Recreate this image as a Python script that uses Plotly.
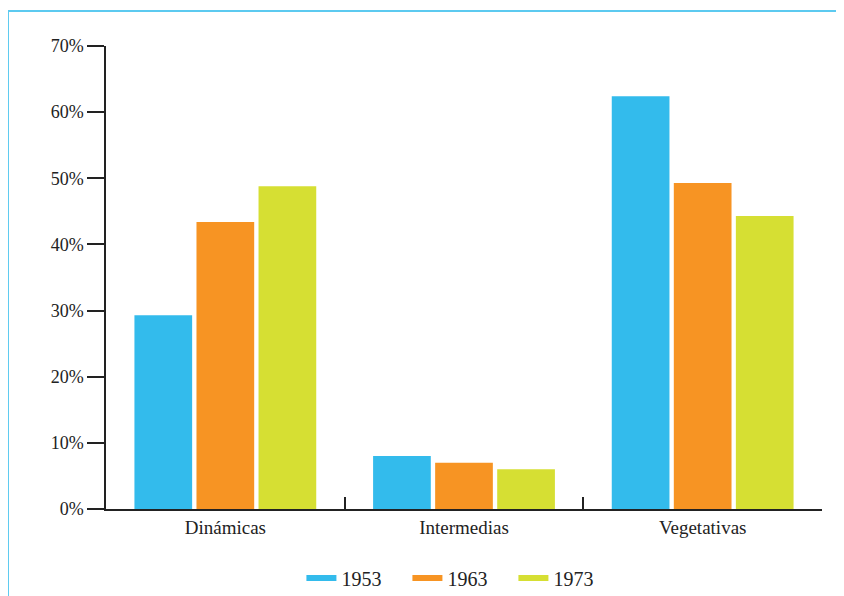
import plotly.graph_objects as go

categories = ["Dinámicas", "Intermedias", "Vegetativas"]
years = ["1953", "1963", "1973"]
values_1953 = [29.3, 8.0, 62.4]
values_1963 = [43.4, 7.0, 49.3]
values_1973 = [48.8, 6.0, 44.3]
colors = ["#33bbec", "#f79423", "#d6df33"]
y_ticks = [0, 10, 20, 30, 40, 50, 60, 70]
y_tick_labels = [f"{v}%" for v in y_ticks]

fig = go.Figure()
for yr, vals, col in zip(years, [values_1953, values_1963, values_1973], colors):
    fig.add_trace(go.Bar(x=categories, y=vals, name=yr, marker=dict(color=col, line=dict(width=0)),
                         showlegend=False))
for yr, col in zip(years, colors):
    fig.add_trace(go.Scatter(x=[None], y=[None], mode="lines", name=yr,
                             line=dict(color=col, width=6), showlegend=True))

font = "Liberation Serif, Times New Roman, serif"
fig.update_layout(
    width=844, height=596,
    margin=dict(l=98, r=30, t=38, b=95, autoexpand=False),
    paper_bgcolor="white", plot_bgcolor="white",
    barmode="group", bargap=0.22, bargroupgap=0.07,
    font=dict(family=font, color="#222222"),
    legend=dict(orientation="h", x=0.495, xanchor="center", y=-0.149, yanchor="middle",
                font=dict(size=20, family=font, color="#222222"), itemwidth=30,
                entrywidth=61, entrywidthmode="pixels",
                bgcolor="rgba(0,0,0,0)"),
    xaxis=dict(type="category", range=[-0.5, 2.5], showline=True, linecolor="#222222", linewidth=1.5,
               ticks="inside", tickson="boundaries", ticklen=12, tickwidth=1.5, tickcolor="#222222",
               showgrid=False, tickfont=dict(size=19, family=font, color="#222222"), fixedrange=True),
    yaxis=dict(range=[0, 70], tickmode="array", tickvals=y_ticks, ticktext=y_tick_labels,
               showline=True, linecolor="#222222",
               linewidth=1.5, ticks="outside", ticklen=17, tickwidth=1.5, tickcolor="#222222",
               showgrid=False, zeroline=False, tickfont=dict(size=18, family=font, color="#222222")),
    shapes=[dict(type="rect", xref="paper", yref="paper", x0=-0.1369, x1=1.08, y0=-0.25, y1=1.0756,
                 line=dict(color="#5ccaf0", width=2), fillcolor="rgba(0,0,0,0)", layer="below")],
)
fig.write_html("out.html")
